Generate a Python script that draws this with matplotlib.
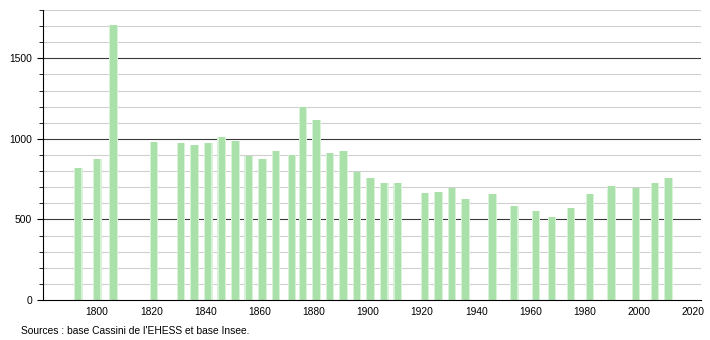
import matplotlib.pyplot as plt
from matplotlib.ticker import MultipleLocator

# Census years and population
years = [1793, 1800, 1806, 1821, 1831, 1836, 1841, 1846, 1851, 1856, 1861, 1866,
         1872, 1876, 1881, 1886, 1891, 1896, 1901, 1906, 1911, 1921, 1926, 1931,
         1936, 1946, 1954, 1962, 1968, 1975, 1982, 1990, 1999, 2006, 2011]
population = [820, 875, 1705, 983, 972, 965, 975, 1014, 987, 892, 875, 923,
              902, 1199, 1120, 915, 927, 797, 757, 726, 728, 666, 672, 693,
              627, 660, 585, 554, 516, 572, 660, 709, 695, 724, 759]

x_ticks = [1800, 1820, 1840, 1860, 1880, 1900, 1920, 1940, 1960, 1980, 2000, 2020]
y_ticks = [0, 500, 1000, 1500]

plt.rcParams['font.family'] = ['Liberation Sans', 'DejaVu Sans']

fig = plt.figure(figsize=(7.1, 3.4), dpi=100)
ax = fig.add_axes([0.0606, 0.1176, 0.9268, 0.853])

# Grid lines: light every 100, dark every 500
for v in range(100, 1900, 100):
    if v % 500 == 0:
        ax.axhline(v, color='#3a3a3a', linewidth=0.8, zorder=1)
    else:
        ax.axhline(v, color='#d0d0d0', linewidth=0.8, zorder=1)

# Bars with soft edges
ax.bar(years, population, width=3.2, color='#d8f2d8', zorder=2)
ax.bar(years, population, width=2.4, color='#aae0aa', zorder=3)

ax.set_xlim(1780, 2023)
ax.set_ylim(0, 1800)
ax.set_xticks(x_ticks)
ax.set_yticks(y_ticks)
ax.yaxis.set_minor_locator(MultipleLocator(100))
ax.tick_params(axis='x', length=0, labelsize=7.4, pad=5)
ax.tick_params(axis='y', which='major', length=4, labelsize=7.4, pad=4)
ax.tick_params(axis='y', which='minor', length=3)

ax.spines['top'].set_visible(False)
ax.spines['right'].set_visible(False)
ax.spines['left'].set_zorder(4)
ax.spines['bottom'].set_zorder(4)

fig.text(0.03, 0.018, "Sources : base Cassini de l'EHESS et base Insee.", fontsize=7.4)

fig.savefig('out.png', dpi=100)
